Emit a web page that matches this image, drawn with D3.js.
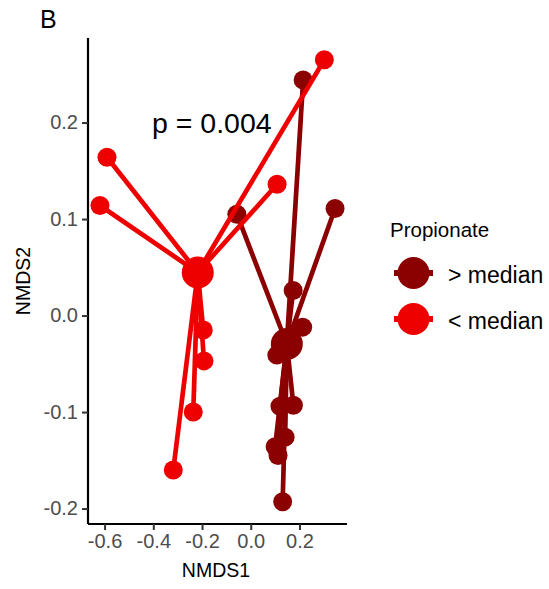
<!DOCTYPE html>
<html>
<head>
<meta charset="utf-8">
<script src="https://cdn.jsdelivr.net/npm/d3@7/dist/d3.min.js"></script>
<style>
  html, body { margin: 0; padding: 0; background: #fff; }
  svg { display: block; }
  text { font-family: "Liberation Sans", Arial, sans-serif; }
</style>
</head>
<body>
<svg id="chart" width="549" height="589"></svg>
<script>
// NMDS ordination of samples, split by propionate level (spider plot to group centroids)
const groupNames = ["> median", "< median"];
const groupColors = ["#8B0000", "#EE0000"];

// samples above the propionate median
const highX = [0.215, 0.346, -0.057, 0.174, 0.213, 0.107, 0.120, 0.175, 0.141, 0.100, 0.112, 0.131];
const highY = [0.244, 0.111, 0.105, 0.026, -0.012, -0.041, -0.094, -0.093, -0.126, -0.136, -0.145, -0.193];

// samples below the propionate median
const lowX = [0.302, -0.590, -0.619, 0.108, -0.195, -0.192, -0.236, -0.318];
const lowY = [0.265, 0.164, 0.114, 0.136, -0.015, -0.047, -0.100, -0.160];

const xTicks = [-0.6, -0.4, -0.2, 0.0, 0.2];
const yTicks = [-0.2, -0.1, 0.0, 0.1, 0.2];
const pLabel = "p = 0.004";

const svg = d3.select("#chart");
const x = d3.scaleLinear().domain([-0.668, 0.395]).range([88, 347]);
const y = d3.scaleLinear().domain([-0.216, 0.2876]).range([524, 38]);

// one decimal, plain hyphen for negatives
const fmt = d => d3.format(".1f")(d).replace("\u2212", "-");

const groups = [
  { name: groupNames[0], color: groupColors[0], xs: highX, ys: highY },
  { name: groupNames[1], color: groupColors[1], xs: lowX, ys: lowY }
].map(g => {
  const pts = g.xs.map((v, i) => ({ x: v, y: g.ys[i] }));
  return { ...g, pts, cx: d3.mean(g.xs), cy: d3.mean(g.ys) };
});

const plot = svg.append("g");

// sample points
groups.forEach(g => {
  plot.append("g").selectAll("circle").data(g.pts).join("circle")
    .attr("cx", d => x(d.x)).attr("cy", d => y(d.y)).attr("r", 9.5)
    .attr("fill", g.color);
});
// spokes from each sample to its group centroid
groups.forEach(g => {
  plot.append("g").selectAll("line").data(g.pts).join("line")
    .attr("x1", x(g.cx)).attr("y1", y(g.cy))
    .attr("x2", d => x(d.x)).attr("y2", d => y(d.y))
    .attr("stroke", g.color).attr("stroke-width", 4.7);
});
// centroids
groups.forEach(g => {
  plot.append("circle").attr("cx", x(g.cx)).attr("cy", y(g.cy)).attr("r", 16)
    .attr("fill", g.color);
});

// axes
const xAxis = svg.append("g").attr("transform", "translate(0,524)")
  .call(d3.axisBottom(x).tickValues(xTicks).tickFormat(fmt).tickSizeOuter(0).tickSize(6).tickPadding(4));
const yAxis = svg.append("g").attr("transform", "translate(88,0)")
  .call(d3.axisLeft(y).tickValues(yTicks).tickFormat(fmt).tickSizeOuter(0).tickSize(6).tickPadding(4));
[xAxis, yAxis].forEach(a => {
  a.select(".domain").attr("stroke", "#000").attr("stroke-width", 2.2);
  a.selectAll(".tick line").attr("stroke", "#333").attr("stroke-width", 2);
  a.selectAll(".tick text").attr("fill", "#4D4D4D").attr("font-size", 20)
    .attr("font-family", "Liberation Sans, Arial, sans-serif");
});
xAxis.select(".domain").attr("d", "M88,0H347");
yAxis.select(".domain").attr("d", "M0,38V524");

svg.append("text").attr("x", 216).attr("y", 577).attr("text-anchor", "middle")
  .attr("font-size", 19.5).text("NMDS1");
svg.append("text").attr("transform", "translate(30,281) rotate(-90)").attr("text-anchor", "middle")
  .attr("font-size", 19.5).text("NMDS2");

// panel tag and test result
svg.append("text").attr("x", 40).attr("y", 28).attr("font-size", 25).text("B");
svg.append("text").attr("x", 152).attr("y", 133).attr("font-size", 28.5).text(pLabel);

// legend
const legend = svg.append("g");
legend.append("text").attr("x", 390).attr("y", 237).attr("font-size", 20.5).text("Propionate");
groups.forEach((g, i) => {
  const cy = 273 + i * 46;
  legend.append("line").attr("x1", 394).attr("x2", 433).attr("y1", cy).attr("y2", cy)
    .attr("stroke", g.color).attr("stroke-width", 6);
  legend.append("circle").attr("cx", 413.5).attr("cy", cy).attr("r", 16).attr("fill", g.color);
  legend.append("text").attr("x", 448).attr("y", cy + 10).attr("font-size", 23).text(g.name);
});
</script>
</body>
</html>
